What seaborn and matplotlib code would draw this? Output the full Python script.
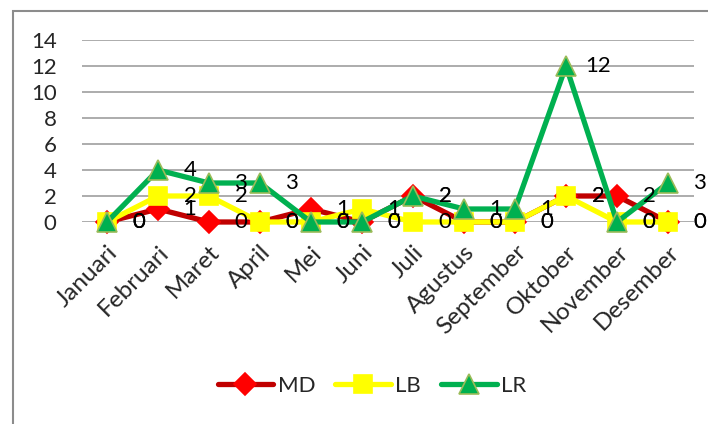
import pandas as pd
import seaborn as sns
import matplotlib.pyplot as plt
from matplotlib.patches import Rectangle

months = ['Januari', 'Februari', 'Maret', 'April', 'Mei', 'Juni', 'Juli',
          'Agustus', 'September', 'Oktober', 'November', 'Desember']
md = [0, 1, 0, 0, 1, 0, 2, 0, 0, 2, 2, 0]
lb = [0, 2, 2, 0, 0, 1, 0, 0, 0, 2, 0, 0]
lr = [0, 4, 3, 3, 0, 0, 2, 1, 1, 12, 0, 3]

series = {'MD': md, 'LB': lb, 'LR': lr}
styles = {'MD': dict(color='#C00000', marker='D', mfc='#FF0000', mec='#FF0000', ms=11),
          'LB': dict(color='#FFFF00', marker='s', mfc='#FFFF00', mec='#FFFF00', ms=13),
          'LR': dict(color='#00B050', marker='^', mfc='#00B050', mec='#9BBB59', ms=14)}

df = pd.DataFrame({'Bulan': months * 3,
                   'x': list(range(len(months))) * 3,
                   'Jumlah': md + lb + lr,
                   'Seri': ['MD'] * 12 + ['LB'] * 12 + ['LR'] * 12})

sns.set_style('white')
plt.rcParams['font.family'] = ['Lato', 'DejaVu Sans']

fig = plt.figure(figsize=(7.08, 4.24), dpi=100)
ax = fig.add_axes([81.5 / 708, 1 - 222 / 424, 612 / 708, 182 / 424])

for name in ['MD', 'LB', 'LR']:
    st = styles[name]
    sub = df[df.Seri == name]
    sns.lineplot(data=sub, x='x', y='Jumlah', ax=ax, color=st['color'], lw=3.8,
                 marker=st['marker'], markersize=st['ms'], markerfacecolor=st['mfc'],
                 markeredgecolor=st['mec'], markeredgewidth=1.2, label=name,
                 clip_on=False, zorder=3)

for name in ['MD', 'LB', 'LR']:
    for i, v in enumerate(series[name]):
        ax.annotate(str(v), (i, v), xytext=(23, 0), textcoords='offset points',
                    ha='center', va='center', fontsize=16, color='black', zorder=5)

ax.set_xlim(-0.5, 11.5)
ax.set_ylim(0, 14)
ax.set_yticks(range(0, 15, 2))
ax.set_xticks(range(len(months)))
ax.set_xticklabels(months, rotation=45, ha='right', rotation_mode='anchor')
ax.tick_params(axis='x', labelsize=17.5, pad=14, length=0)
ax.tick_params(axis='y', labelsize=16, pad=18, length=0)
for lab in ax.get_xticklabels():
    lab.set_x(lab.get_position()[0])
ax.grid(axis='y', color='#A6A6A6', lw=1.3)
ax.set_axisbelow(True)
for sp in ax.spines.values():
    sp.set_visible(False)
ax.set_xlabel('')
ax.set_ylabel('')

ax.legend(loc='center', bbox_to_anchor=(372 / 708, 1 - 386 / 424),
          bbox_transform=fig.transFigure, ncol=3, frameon=False, fontsize=16,
          handlelength=2.5, handletextpad=0.2, columnspacing=0.9)

fig.patches.append(Rectangle((12.5 / 708, -0.5), 2, 1.5 - 10.5 / 424, transform=fig.transFigure,
                             fill=False, edgecolor='#8C8C8C', lw=1.5))

fig.savefig('out.png', dpi=100)
